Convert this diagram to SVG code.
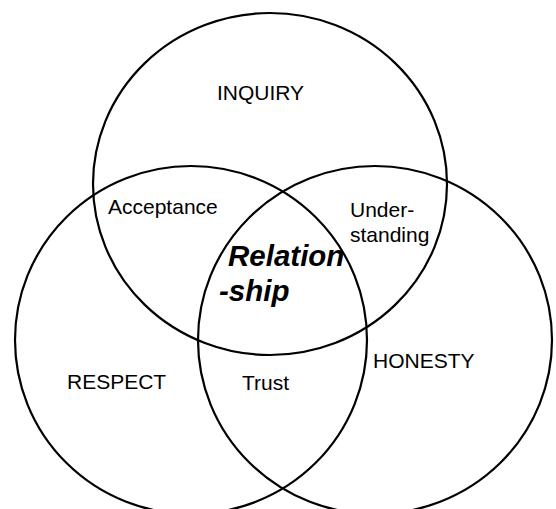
<svg xmlns="http://www.w3.org/2000/svg" width="556" height="509" viewBox="0 0 556 509">
  <style>
    .ring { fill: none; stroke: #000; stroke-width: 2.2; }
    .lbl { font-family: "Liberation Sans", Arial, sans-serif; font-size: 21px; fill: #000; }
    .core { font-family: "Liberation Sans", Arial, sans-serif; font-size: 29.5px; font-weight: bold; font-style: italic; fill: #000; }
  </style>
  <rect width="556" height="509" fill="#fff"/>
  <g id="connectors"></g>
  <g id="inquiry">
    <ellipse class="ring" cx="270" cy="184" rx="177" ry="171"/>
    <text class="lbl" x="217" y="100">INQUIRY</text>
  </g>
  <g id="respect">
    <ellipse class="ring" cx="191" cy="340" rx="176" ry="174"/>
    <text class="lbl" x="67" y="389">RESPECT</text>
  </g>
  <g id="honesty">
    <ellipse class="ring" cx="375" cy="340" rx="177" ry="174"/>
    <text class="lbl" x="373" y="368">HONESTY</text>
  </g>
  <g id="acceptance">
    <text class="lbl" x="108" y="214">Acceptance</text>
  </g>
  <g id="understanding">
    <text class="lbl" x="350" y="217">Under-</text>
    <text class="lbl" x="350" y="242">standing</text>
  </g>
  <g id="trust">
    <text class="lbl" x="242" y="390">Trust</text>
  </g>
  <g id="relationship">
    <text class="core" x="228" y="266">Relation</text>
    <text class="core" x="219" y="301">-ship</text>
  </g>
</svg>
